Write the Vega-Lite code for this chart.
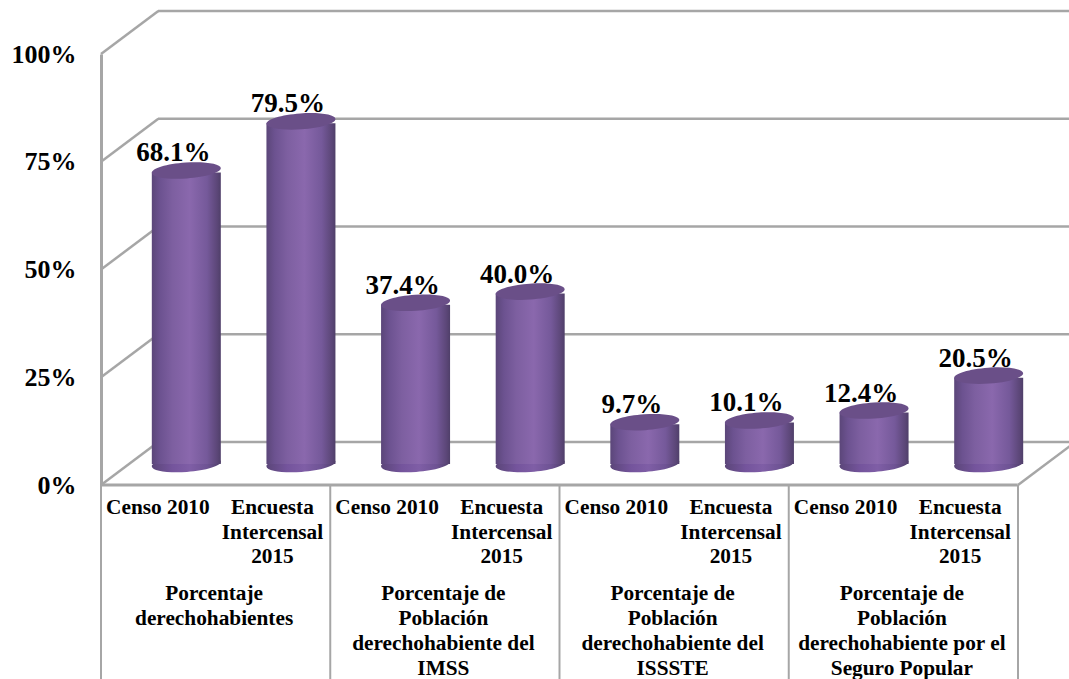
{
  "$schema": "https://vega.github.io/schema/vega-lite/v6.json",
  "width": 917,
  "height": 431,
  "autosize": "none",
  "padding": {"left": 101, "top": 54, "right": 51, "bottom": 194},
  "background": "white",
  "config": {"view": {"stroke": null}, "font": "Liberation Serif"},
  "datasets": {
    "barras": [
      {"barra": "A1", "fuente": "Censo 2010", "valor": 0.681, "grupo": "Porcentaje|derechohabientes"},
      {"barra": "A2", "fuente": "Encuesta|Intercensal|2015", "valor": 0.795, "grupo": "Porcentaje|derechohabientes"},
      {"barra": "B1", "fuente": "Censo 2010", "valor": 0.374, "grupo": "Porcentaje de|Población|derechohabiente del|IMSS"},
      {"barra": "B2", "fuente": "Encuesta|Intercensal|2015", "valor": 0.400, "grupo": "Porcentaje de|Población|derechohabiente del|IMSS"},
      {"barra": "C1", "fuente": "Censo 2010", "valor": 0.097, "grupo": "Porcentaje de|Población|derechohabiente del|ISSSTE"},
      {"barra": "C2", "fuente": "Encuesta|Intercensal|2015", "valor": 0.101, "grupo": "Porcentaje de|Población|derechohabiente del|ISSSTE"},
      {"barra": "D1", "fuente": "Censo 2010", "valor": 0.124, "grupo": "Porcentaje de|Población|derechohabiente por el|Seguro Popular"},
      {"barra": "D2", "fuente": "Encuesta|Intercensal|2015", "valor": 0.205, "grupo": "Porcentaje de|Población|derechohabiente por el|Seguro Popular"}
    ],
    "marcas": [{"t": 0}, {"t": 0.25}, {"t": 0.5}, {"t": 0.75}, {"t": 1}]
  },
  "layer": [
    {
      "data": {"name": "marcas"},
      "mark": {"type": "rule", "color": "#a6a6a6", "strokeWidth": 2.5, "xOffset": 57, "x2Offset": 130, "yOffset": -43, "y2Offset": -43},
      "encoding": {
        "x": {"datum": "A1", "bandPosition": 0, "type": "nominal", "scale": {"domain": ["A1","A2","B1","B2","C1","C2","D1","D2"], "padding": 0}, "axis": null},
        "x2": {"datum": "D2"},
        "y": {"field": "t", "type": "quantitative", "scale": {"domain": [0, 1], "nice": false},
          "axis": {"values": [0, 0.25, 0.5, 0.75, 1], "format": ".0%", "title": null, "grid": false, "ticks": false, "domain": true, "domainColor": "#a6a6a6", "domainWidth": 3, "labelFont": "Liberation Serif", "labelFontWeight": "bold", "labelFontSize": 26, "labelColor": "black", "labelPadding": 25, "labelOverlap": false}}
      }
    },
    {
      "data": {"name": "marcas"},
      "mark": {"type": "rule", "color": "#a6a6a6", "strokeWidth": 2.5, "y2Offset": -43},
      "encoding": {
        "x": {"datum": "A1", "bandPosition": 0, "type": "nominal"},
        "x2": {"datum": "A1"},
        "y": {"field": "t", "type": "quantitative"},
        "y2": {"field": "t"}
      }
    },
    {
      "data": {"values": [{"t": 0}]},
      "mark": {"type": "rule", "color": "#a6a6a6", "strokeWidth": 2.5, "xOffset": 917, "y2Offset": -43, "x2Offset": 917},
      "encoding": {
        "x": {"datum": "A1", "bandPosition": 0, "type": "nominal"},
        "x2": {"datum": "A1"},
        "y": {"field": "t", "type": "quantitative"},
        "y2": {"field": "t"}
      }
    },
    {
      "data": {"values": [{"t": 0}]},
      "mark": {"type": "rule", "color": "#a6a6a6", "strokeWidth": 3, "x2Offset": 57},
      "encoding": {
        "x": {"datum": "A1", "bandPosition": 0, "type": "nominal"},
        "x2": {"datum": "D2"},
        "y": {"field": "t", "type": "quantitative"}
      }
    },
    {
      "data": {"name": "barras"},
      "transform": [{"filter": "datum.fuente === 'Censo 2010'"}],
      "mark": {"type": "rule", "color": "#a6a6a6", "strokeWidth": 2, "y2Offset": 194},
      "encoding": {
        "x": {"field": "barra", "type": "nominal", "bandPosition": 0},
        "y": {"datum": 0, "type": "quantitative"},
        "y2": {"datum": 0}
      }
    },
    {
      "data": {"name": "barras"},
      "transform": [{"filter": "datum.barra === 'D2'"}],
      "mark": {"type": "rule", "color": "#a6a6a6", "strokeWidth": 2, "y2Offset": 194},
      "encoding": {
        "x": {"field": "barra", "type": "nominal", "bandPosition": 1},
        "y": {"datum": 0, "type": "quantitative"},
        "y2": {"datum": 0}
      }
    },
    {
      "data": {"name": "barras"},
      "mark": {"type": "point", "filled": true, "opacity": 1, "size": 4761, "xOffset": 28, "yOffset": -21,
        "shape": "M -1 0.07 A 1 0.23 -4 1 1 1 -0.07 A 1 0.23 -4 1 1 -1 0.07 Z",
        "color": {"gradient": "linear", "x1": 0, "x2": 1, "y1": 0, "y2": 0, "stops": [
          {"offset": 0, "color": "#5b4679"}, {"offset": 0.3, "color": "#74549c"}, {"offset": 0.55, "color": "#7f5ea6"}, {"offset": 0.8, "color": "#6e5394"}, {"offset": 1, "color": "#4f3f69"}]}},
      "encoding": {
        "x": {"field": "barra", "type": "nominal"},
        "y": {"datum": 0, "type": "quantitative"}
      }
    },
    {
      "data": {"name": "barras"},
      "mark": {"type": "bar", "width": 69, "xOffset": 28, "yOffset": -19, "y2Offset": -21,
        "color": {"gradient": "linear", "x1": 0, "x2": 1, "y1": 0, "y2": 0, "stops": [
          {"offset": 0, "color": "#5b4679"}, {"offset": 0.12, "color": "#6c5290"}, {"offset": 0.3, "color": "#7d5fa0"},
          {"offset": 0.55, "color": "#8a68ad"}, {"offset": 0.8, "color": "#75599a"}, {"offset": 0.95, "color": "#5b4677"}, {"offset": 1, "color": "#4f3f69"}]}},
      "encoding": {
        "x": {"field": "barra", "type": "nominal"},
        "y": {"field": "valor", "type": "quantitative"},
        "y2": {"datum": 0}
      }
    },
    {
      "data": {"name": "barras"},
      "mark": {"type": "point", "filled": true, "opacity": 1, "size": 4761, "xOffset": 28, "yOffset": -21, "color": "#6a4f88",
        "shape": "M -1 0.07 A 1 0.23 -4 1 1 1 -0.07 A 1 0.23 -4 1 1 -1 0.07 Z"},
      "encoding": {
        "x": {"field": "barra", "type": "nominal"},
        "y": {"field": "valor", "type": "quantitative"}
      }
    },
    {
      "data": {"name": "barras"},
      "mark": {"type": "text", "font": "Liberation Serif", "fontWeight": "bold", "fontSize": 27, "color": "black", "baseline": "alphabetic", "xOffset": 15, "yOffset": -30},
      "encoding": {
        "x": {"field": "barra", "type": "nominal"},
        "y": {"field": "valor", "type": "quantitative"},
        "text": {"field": "valor", "type": "quantitative", "format": ".1%"}
      }
    },
    {
      "data": {"name": "barras"},
      "mark": {"type": "text", "font": "Liberation Serif", "fontWeight": "bold", "fontSize": 21.3, "color": "black", "baseline": "top", "lineBreak": "|", "lineHeight": 24.5, "yOffset": 12, "xOffset": -0.5},
      "encoding": {
        "x": {"field": "barra", "type": "nominal"},
        "y": {"datum": 0, "type": "quantitative"},
        "text": {"field": "fuente", "type": "nominal"}
      }
    },
    {
      "data": {"name": "barras"},
      "transform": [{"filter": "datum.fuente === 'Censo 2010'"}],
      "mark": {"type": "text", "font": "Liberation Serif", "fontWeight": "bold", "fontSize": 21.3, "color": "black", "baseline": "top", "lineBreak": "|", "lineHeight": 25, "yOffset": 98, "xOffset": -1.5},
      "encoding": {
        "x": {"field": "barra", "type": "nominal", "bandPosition": 1},
        "y": {"datum": 0, "type": "quantitative"},
        "text": {"field": "grupo", "type": "nominal"}
      }
    }
  ]
}
